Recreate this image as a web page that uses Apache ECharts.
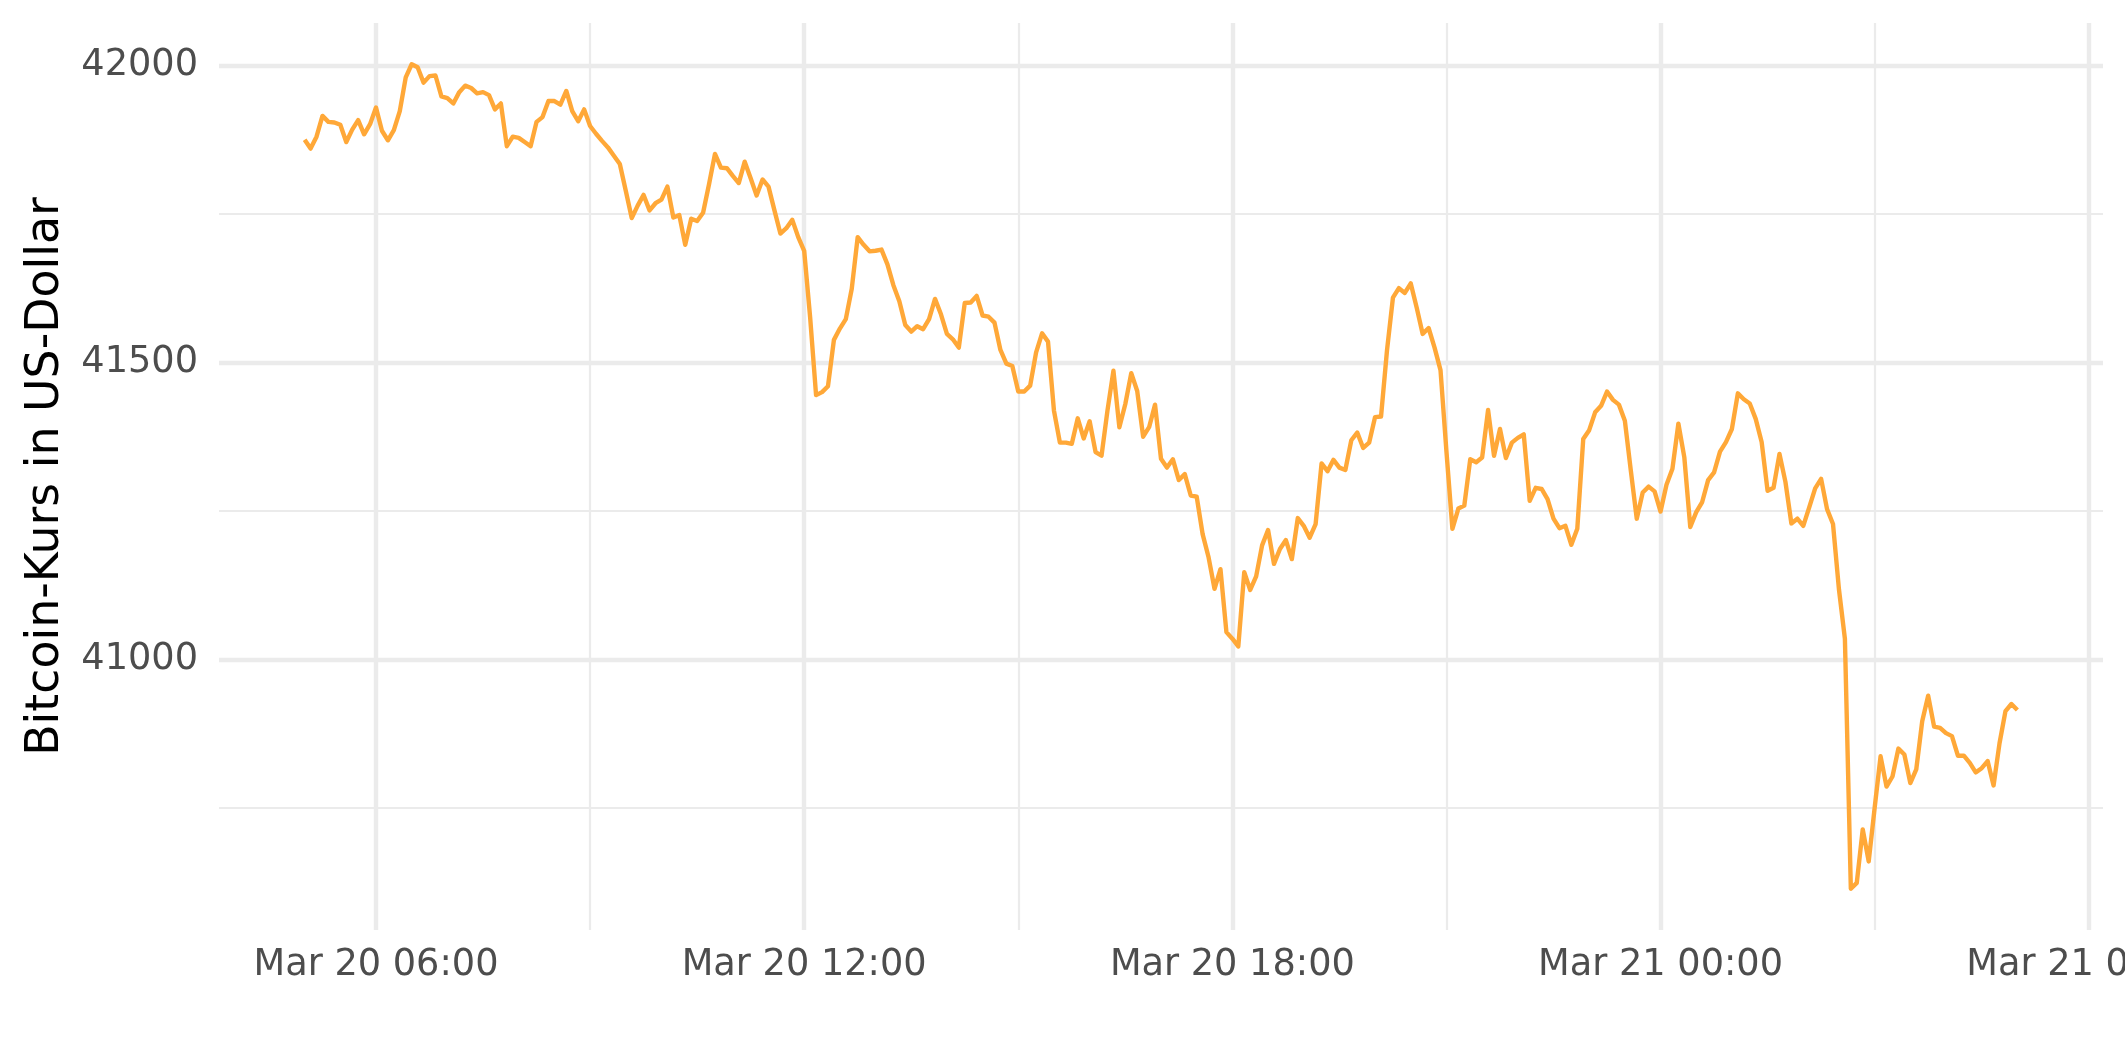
<!DOCTYPE html>
<html>
<head>
<meta charset="utf-8">
<script src="https://cdn.jsdelivr.net/npm/echarts@6/dist/echarts.min.js"></script>
<style>
html,body{margin:0;padding:0;background:#ffffff;}
#chart{width:2125px;height:1062px;}
</style>
</head>
<body>
<div id="chart"></div>
<script>
// Time grid: 5-minute samples starting Mar 20 05:00 (hours since Mar 20 00:00)
const startHour = 5;
const stepMinutes = 5;

// Bitcoin price in USD (one value per 5 minutes)
const prices = [
41875,41860,41880,41915,41905,41904,41900,41871,41892,41908,41884,41901,
41929,41890,41874,41891,41923,41980,42002,41997,41971,41982,41983,41948,
41945,41936,41955,41966,41962,41953,41955,41950,41926,41936,41864,41880,
41878,41871,41864,41905,41913,41940,41940,41934,41957,41923,41906,41926,
41898,41885,41873,41862,41848,41834,41789,41743,41764,41782,41756,41768,
41774,41796,41744,41748,41698,41742,41738,41752,41800,41851,41828,41827,
41814,41802,41838,41810,41781,41808,41796,41756,41717,41726,41740,41711,
41688,41576,41445,41450,41460,41538,41557,41573,41624,41711,41698,41687,
41688,41690,41665,41630,41603,41563,41552,41561,41556,41573,41607,41581,
41548,41539,41525,41600,41601,41612,41579,41577,41567,41521,41498,41494,
41451,41451,41461,41517,41549,41535,41419,41365,41365,41363,41406,41372,
41401,41349,41343,41419,41486,41391,41430,41482,41452,41375,41391,41429,
41338,41323,41337,41302,41312,41276,41274,41211,41172,41119,41152,41046,
41035,41022,41147,41117,41140,41192,41218,41161,41186,41201,41169,41238,
41225,41205,41228,41330,41317,41336,41323,41319,41369,41382,41356,41365,
41408,41409,41520,41609,41625,41617,41633,41592,41548,41558,41525,41487,
41350,41220,41254,41259,41337,41332,41340,41420,41343,41388,41339,41365,
41373,41379,41267,41289,41287,41270,41237,41221,41225,41193,41220,41371,
41386,41416,41427,41451,41437,41429,41402,41318,41237,41281,41291,41283,
41249,41294,41321,41397,41340,41223,41248,41265,41302,41315,41350,41366,
41388,41448,41438,41431,41405,41366,41284,41289,41346,41299,41229,41237,
41225,41256,41288,41304,41253,41228,41118,41035,40614,40624,40714,40660,
40750,40837,40786,40803,40850,40840,40792,40815,40896,40939,40887,40885,
40876,40871,40838,40838,40826,40810,40817,40829,40788,40859,40913,40925,
40915
];

// Axis ticks (x in hours since Mar 20 00:00)
const xMajorTicks = [6, 12, 18, 24, 30];
const xMajorLabels = ['Mar 20 06:00', 'Mar 20 12:00', 'Mar 20 18:00', 'Mar 21 00:00', 'Mar 21 06:00'];
const xMinorTicks = [9, 15, 21, 27];
const yMajorTicks = [41000, 41500, 42000];
const yMajorLabels = ['41000', '41500', '42000'];
const yMinorTicks = [40750, 41250, 41750];
const yTitle = 'Bitcoin-Kurs in US-Dollar';

// Build series data
const seriesData = prices.map((p, i) => [startHour + i * stepMinutes / 60, p]);

// ggplot-like 5% expansion of the data range
const xs = seriesData.map(d => d[0]);
const xLo = Math.min(...xs), xHi = Math.max(...xs);
const xPad = (xHi - xLo) * 0.05;
const yLo = Math.min(...prices), yHi = Math.max(...prices);
const yPad = (yHi - yLo) * 0.05;

const gridColor = '#EBEBEB';
const majorW = 4.4, minorW = 2.2;
const gridLines = [];
xMinorTicks.forEach(v => gridLines.push({xAxis: v, lineStyle: {width: minorW, color: gridColor, type: 'solid'}}));
yMinorTicks.forEach(v => gridLines.push({yAxis: v, lineStyle: {width: minorW, color: gridColor, type: 'solid'}}));
xMajorTicks.forEach(v => gridLines.push({xAxis: v, lineStyle: {width: majorW, color: gridColor, type: 'solid'}}));
yMajorTicks.forEach(v => gridLines.push({yAxis: v, lineStyle: {width: majorW, color: gridColor, type: 'solid'}}));

const FONT = '"DejaVu Sans", sans-serif';

const chart = echarts.init(document.getElementById('chart'), null, {renderer: 'canvas'});
chart.setOption({
  animation: false,
  backgroundColor: '#ffffff',
  grid: {left: 219, right: 22, top: 23, bottom: 132, containLabel: false, outerBoundsMode: 'none'},
  xAxis: {
    type: 'value',
    min: xLo - xPad,
    max: xHi + xPad,
    axisLine: {show: false},
    axisTick: {show: false},
    splitLine: {show: false},
    axisLabel: {
      customValues: xMajorTicks,
      formatter: v => xMajorLabels[xMajorTicks.indexOf(v)] || '',
      color: '#4D4D4D',
      fontFamily: FONT,
      fontSize: 36.7,
      margin: 17,
      hideOverlap: false,
      alignMinLabel: 'center',
      alignMaxLabel: 'center'
    }
  },
  yAxis: {
    type: 'value',
    min: yLo - yPad,
    max: yHi + yPad,
    axisLine: {show: false},
    axisTick: {show: false},
    splitLine: {show: false},
    name: yTitle,
    nameLocation: 'middle',
    nameRotate: 90,
    nameGap: 150,
    nameTextStyle: {color: '#000000', fontFamily: FONT, fontSize: 45.8},
    axisLabel: {
      customValues: yMajorTicks,
      formatter: v => yMajorLabels[yMajorTicks.indexOf(v)] || String(v),
      color: '#4D4D4D',
      fontFamily: FONT,
      fontSize: 36.7,
      margin: 21
    }
  },
  series: [{
    type: 'line',
    data: seriesData,
    showSymbol: false,
    symbol: 'none',
    z: 3,
    lineStyle: {color: '#FFA838', width: 4.4, join: 'round'},
    itemStyle: {color: '#FFA838'},
    markLine: {
      silent: true,
      z: 1,
      symbol: ['none', 'none'],
      label: {show: false},
      emphasis: {disabled: true},
      animation: false,
      data: gridLines
    }
  }]
});
</script>
</body>
</html>
